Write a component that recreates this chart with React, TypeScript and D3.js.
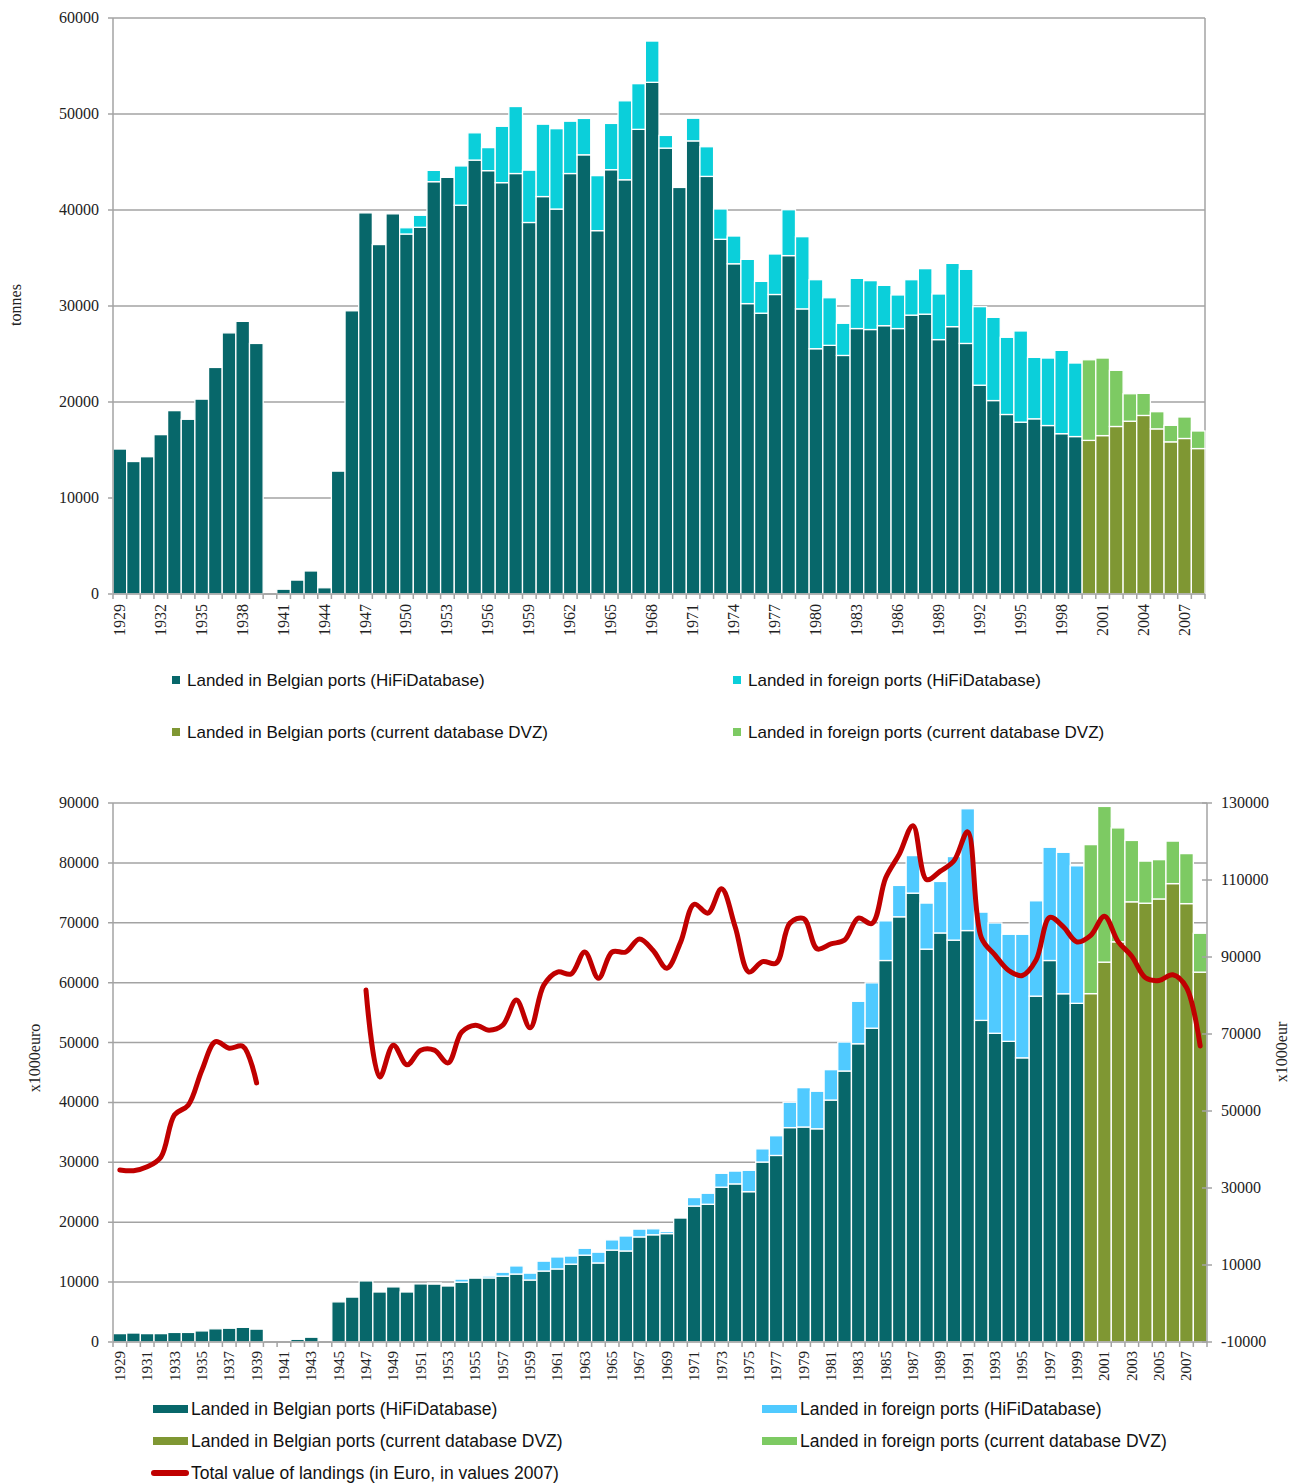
import React from "react";
import * as d3 from "d3";

// ---------- DATA ----------
const years: number[] = d3.range(1929, 2009);
const hifiYears: number[] = d3.range(1929, 2000);
const dvzYears: number[] = d3.range(2000, 2009);

// Top chart: tonnes
const tonBelgHiFi = [
  15100, 13800, 14300, 16600, 19100, 18200, 20300, 23600, 27200, 28400, 26100,
  0, 500, 1450, 2400, 650, 12800, 29500, 39700, 36400, 39600, 37500, 38200,
  42950, 43400, 40500, 45200, 44100, 42850, 43800, 38700, 41400, 40100, 43800,
  45750, 37850, 44200, 43150, 48400, 53300, 46450, 42350, 47200, 43500, 36950,
  34400, 30250, 29250, 31200, 35250, 29700, 25550, 25900, 24850, 27650, 27550,
  27950, 27650, 29050, 29150, 26500, 27850, 26100, 21750, 20150, 18700, 17900,
  18250, 17550, 16700, 16400,
];
const tonForHiFi = [
  0, 0, 0, 0, 0, 0, 0, 0, 0, 0, 0, 0, 0, 0, 0, 0, 0, 0, 0, 0, 0, 650, 1250,
  1180, 0, 4090, 2840, 2400, 5870, 6980, 5450, 7540, 8370, 5450, 3790, 5730,
  4820, 8225, 4760, 4300, 1320, 0, 2360, 3090, 3160, 2890, 4610, 3320, 4220,
  4780, 7520, 7190, 4960, 3350, 5230, 5090, 4200, 3500, 3690, 4740, 4750, 6590,
  7720, 8180, 8670, 8040, 9500, 6400, 7030, 8680, 7660,
];
const tonBelgDVZ = [16000, 16500, 17450, 18000, 18600, 17200, 15850, 16200, 15150];
const tonForDVZ = [8400, 8080, 5850, 2860, 2300, 1790, 1720, 2240, 1830];

// Bottom chart: x1000 euro
const eurBelgHiFi = [
  1400, 1500, 1400, 1400, 1600, 1600, 1850, 2200, 2300, 2450, 2150, 0, 0, 450,
  800, 0, 6700, 7500, 10200, 8350, 9200, 8350, 9700, 9700, 9350, 10000, 10700,
  10700, 11000, 11350, 10350, 11850, 12200, 13000, 14500, 13200, 15350, 15200,
  17550, 17900, 18100, 20700, 22700, 23000, 25850, 26400, 25100, 30050, 31150,
  35800, 35900, 35600, 40400, 45250, 49800, 52400, 63700, 71000, 74950, 65600,
  68300, 67100, 68700, 53700, 51550, 50200, 47450, 57750, 63700, 58150, 56550,
];
const eurForHiFi = [
  0, 0, 0, 0, 0, 0, 0, 0, 0, 0, 0, 0, 0, 0, 0, 0, 0, 0, 0, 0, 0, 0, 0, 150, 0,
  500, 200, 300, 650, 1350, 1150, 1650, 2000, 1350, 1150, 1800, 1700, 2500,
  1300, 1000, 350, 0, 1420, 1840, 2320, 2140, 3570, 2200, 3290, 4240, 6570,
  6270, 5070, 4840, 7090, 7570, 6620, 5240, 6270, 7690, 8600, 13960, 20340,
  18080, 18420, 17880, 20630, 15920, 18910, 23620, 22960,
];
const eurBelgDVZ = [58170, 63430, 66820, 73500, 73270, 73980, 76540, 73200, 61760];
const eurForDVZ = [24880, 26000, 19020, 10250, 7030, 6560, 7100, 8350, 6490];

// Total value of landings (right axis, x1000 eur)
const totalValue: (number | null)[] = [
  34700, 34500, 35500, 38000, 49000, 51500, 60600, 68000, 66300, 66800, 57300,
  null, null, null, null, null, null, null,
  81400, 58800, 67100, 62000, 65800, 65800, 62500, 70500, 72300, 71000, 72300,
  78800, 71600, 82700, 86100, 85600, 91300, 84500, 91300, 91300, 94700, 91700,
  87100, 93800, 103700, 101400, 107700, 97800, 86100, 88800, 88400, 98800,
  100000, 92100, 93400, 94400, 100100, 98700, 110500, 116700, 124100, 110100,
  112300, 115000, 122500, 95000, 90500, 86500, 85200, 89200, 100300, 97800,
  93900, 95600, 100600, 94000, 90200, 84600, 83900, 85400, 82100, 66900,
];

const topTicks = [0, 10000, 20000, 30000, 40000, 50000, 60000];
const botLeftTicks = [0, 10000, 20000, 30000, 40000, 50000, 60000, 70000, 80000, 90000];
const botRightTicks = [-10000, 10000, 30000, 50000, 70000, 90000, 110000, 130000];
const topYearLabels = years.filter((y) => (y - 1929) % 3 === 0);
const botYearLabels = years.filter((y) => (y - 1929) % 2 === 0);

const legendTop = [
  "Landed in Belgian ports (HiFiDatabase)",
  "Landed in foreign ports (HiFiDatabase)",
  "Landed in Belgian ports (current database DVZ)",
  "Landed in foreign ports (current database DVZ)",
];
const legendBottomLine = "Total value of landings (in Euro, in values 2007)";

// ---------- STYLE ----------
const C_TEAL = "#07676a";
const C_CYAN = "#0bcfda";
const C_SKY = "#50caff";
const C_OLIVE = "#7f9733";
const C_GREEN = "#7dca63";
const C_RED = "#c00000";
const C_GRID = "#a3a3a3";
const SERIF = "'Liberation Serif', 'DejaVu Serif', serif";
const SANS = "'Liberation Sans', Arial, sans-serif";

type Seg = { year: number; y0: number; y1: number; color: string };

function stackSegs(
  yrs: number[],
  base: number[],
  extra: number[],
  cBase: string,
  cExtra: string
): Seg[] {
  const out: Seg[] = [];
  yrs.forEach((yr, i) => {
    if (base[i] > 0) out.push({ year: yr, y0: 0, y1: base[i], color: cBase });
    if (extra[i] > 0)
      out.push({ year: yr, y0: base[i], y1: base[i] + extra[i], color: cExtra });
  });
  return out;
}

function XTicks({ x, yAxis, x0 }: { x: d3.ScaleBand<number>; yAxis: number; x0: number }) {
  const bw = x.bandwidth();
  return (
    <g>
      {d3.range(0, years.length + 1).map((i) => (
        <line
          key={i}
          x1={x0 + i * bw}
          x2={x0 + i * bw}
          y1={yAxis}
          y2={yAxis + 5}
          stroke={C_GRID}
          strokeWidth={1.5}
        />
      ))}
    </g>
  );
}

export default function App() {
  // ----- top chart -----
  const tL = 113, tR = 1205, tT = 18, tB = 594;
  const xT = d3.scaleBand<number>().domain(years).range([tL, tR]).padding(0);
  const yT = d3.scaleLinear().domain([0, 60000]).range([tB, tT]);
  const topSegs = [
    ...stackSegs(hifiYears, tonBelgHiFi, tonForHiFi, C_TEAL, C_CYAN),
    ...stackSegs(dvzYears, tonBelgDVZ, tonForDVZ, C_OLIVE, C_GREEN),
  ];

  // ----- bottom chart -----
  const bL = 113, bR = 1207, bT = 803, bB = 1342;
  const xB = d3.scaleBand<number>().domain(years).range([bL, bR]).padding(0);
  const yB = d3.scaleLinear().domain([0, 90000]).range([bB, bT]);
  const yR = d3.scaleLinear().domain([-10000, 130000]).range([bB, bT]);
  const botSegs = [
    ...stackSegs(hifiYears, eurBelgHiFi, eurForHiFi, C_TEAL, C_SKY),
    ...stackSegs(dvzYears, eurBelgDVZ, eurForDVZ, C_OLIVE, C_GREEN),
  ];
  const line = d3
    .line<number | null>()
    .defined((d) => d !== null)
    .x((_, i) => (xB(years[i]) as number) + xB.bandwidth() / 2)
    .y((d) => yR(d as number))
    .curve(d3.curveCatmullRom.alpha(0.5));

  const legendColorsTop = [C_TEAL, C_CYAN, C_OLIVE, C_GREEN];
  const legendColorsBot = [C_TEAL, C_SKY, C_OLIVE, C_GREEN];

  return (
    <svg
      width={1293}
      height={1483}
      style={{ position: "absolute", left: 0, top: 0, background: "#fff" }}
    >
      <rect x={0} y={0} width={1293} height={1483} fill="#fff" />

      {/* ================= TOP CHART ================= */}
      <g>
        {topTicks.map((t) => (
          <g key={t}>
            <line x1={tL - 5} x2={tR} y1={yT(t)} y2={yT(t)} stroke={C_GRID} strokeWidth={1.5} />
            <text
              x={tL - 14}
              y={yT(t) + 5}
              textAnchor="end"
              fontFamily={SERIF}
              fontSize={16}
              fill="#222"
            >
              {t}
            </text>
          </g>
        ))}
        <line x1={tR} x2={tR} y1={tT} y2={tB} stroke={C_GRID} strokeWidth={1.5} />
        {topSegs.map((s, i) => (
          <rect
            key={i}
            x={xT(s.year) as number}
            y={yT(s.y1)}
            width={xT.bandwidth()}
            height={yT(s.y0) - yT(s.y1)}
            fill={s.color}
            stroke="#fff"
            strokeWidth={1.3}
          />
        ))}
        <line x1={tL} x2={tL} y1={tT} y2={tB} stroke={C_GRID} strokeWidth={1.5} />
        <line x1={tL} x2={tR} y1={tB} y2={tB} stroke={C_GRID} strokeWidth={1.5} />
        <XTicks x={xT} yAxis={tB} x0={tL} />
        {topYearLabels.map((yr) => {
          const cx = (xT(yr) as number) + xT.bandwidth() / 2 + 5;
          return (
            <text
              key={yr}
              transform={`translate(${cx},${tB + 10}) rotate(-90)`}
              textAnchor="end"
              fontFamily={SERIF}
              fontSize={16}
              fill="#222"
            >
              {yr}
            </text>
          );
        })}
        <text
          transform={`translate(21,305) rotate(-90)`}
          textAnchor="middle"
          fontFamily={SERIF}
          fontSize={16}
          fill="#222"
        >
          tonnes
        </text>
        {/* legend */}
        {legendTop.map((lbl, i) => {
          const lx = i % 2 === 0 ? 172 : 733;
          const ly = i < 2 ? 680 : 732;
          return (
            <g key={lbl}>
              <rect x={lx} y={ly - 4} width={8} height={8} fill={legendColorsTop[i]} />
              <text x={lx + 15} y={ly + 6} fontFamily={SANS} fontSize={17} fill="#111">
                {lbl}
              </text>
            </g>
          );
        })}
      </g>

      {/* ================= BOTTOM CHART ================= */}
      <g>
        {botLeftTicks.map((t) => (
          <g key={t}>
            <line x1={bL - 5} x2={bR} y1={yB(t)} y2={yB(t)} stroke={C_GRID} strokeWidth={1.5} />
            <text
              x={bL - 14}
              y={yB(t) + 5}
              textAnchor="end"
              fontFamily={SERIF}
              fontSize={16}
              fill="#222"
            >
              {t}
            </text>
          </g>
        ))}
        {botSegs.map((s, i) => (
          <rect
            key={i}
            x={xB(s.year) as number}
            y={yB(s.y1)}
            width={xB.bandwidth()}
            height={yB(s.y0) - yB(s.y1)}
            fill={s.color}
            stroke="#fff"
            strokeWidth={1.3}
          />
        ))}
        <line x1={bL} x2={bL} y1={bT} y2={bB} stroke={C_GRID} strokeWidth={1.5} />
        <line x1={bR} x2={bR} y1={bT} y2={bB} stroke={C_GRID} strokeWidth={1.5} />
        <line x1={bL} x2={bR} y1={bB} y2={bB} stroke={C_GRID} strokeWidth={1.5} />
        {botRightTicks.map((t) => (
          <g key={t}>
            <line x1={bR - 5} x2={bR + 5} y1={yR(t)} y2={yR(t)} stroke={C_GRID} strokeWidth={1.5} />
            <text
              x={bR + 14}
              y={yR(t) + 5}
              textAnchor="start"
              fontFamily={SERIF}
              fontSize={16}
              fill="#222"
            >
              {t}
            </text>
          </g>
        ))}
        <XTicks x={xB} yAxis={bB} x0={bL} />
        {botYearLabels.map((yr) => {
          const cx = (xB(yr) as number) + xB.bandwidth() / 2 + 5;
          return (
            <text
              key={yr}
              transform={`translate(${cx},${bB + 9}) rotate(-90)`}
              textAnchor="end"
              fontFamily={SERIF}
              fontSize={15}
              fill="#222"
            >
              {yr}
            </text>
          );
        })}
        <path
          d={line(totalValue) || ""}
          fill="none"
          stroke={C_RED}
          strokeWidth={5}
          strokeLinecap="round"
          strokeLinejoin="round"
        />
        <text
          transform={`translate(40,1058) rotate(-90)`}
          textAnchor="middle"
          fontFamily={SERIF}
          fontSize={16}
          fill="#222"
        >
          x1000euro
        </text>
        <text
          transform={`translate(1287,1052) rotate(-90)`}
          textAnchor="middle"
          fontFamily={SERIF}
          fontSize={16}
          fill="#222"
        >
          x1000eur
        </text>
        {/* legend */}
        {legendTop.map((lbl, i) => {
          const lx = i % 2 === 0 ? 153 : 762;
          const ly = i < 2 ? 1409 : 1441;
          return (
            <g key={"b" + lbl}>
              <rect x={lx} y={ly - 4} width={35} height={8} fill={legendColorsBot[i]} />
              <text x={lx + 38} y={ly + 6} fontFamily={SANS} fontSize={17.5} fill="#111">
                {lbl}
              </text>
            </g>
          );
        })}
        <line
          x1={154}
          x2={186}
          y1={1473}
          y2={1473}
          stroke={C_RED}
          strokeWidth={6}
          strokeLinecap="round"
        />
        <text x={191} y={1479} fontFamily={SANS} fontSize={17.5} fill="#111">
          {legendBottomLine}
        </text>
      </g>
    </svg>
  );
}
